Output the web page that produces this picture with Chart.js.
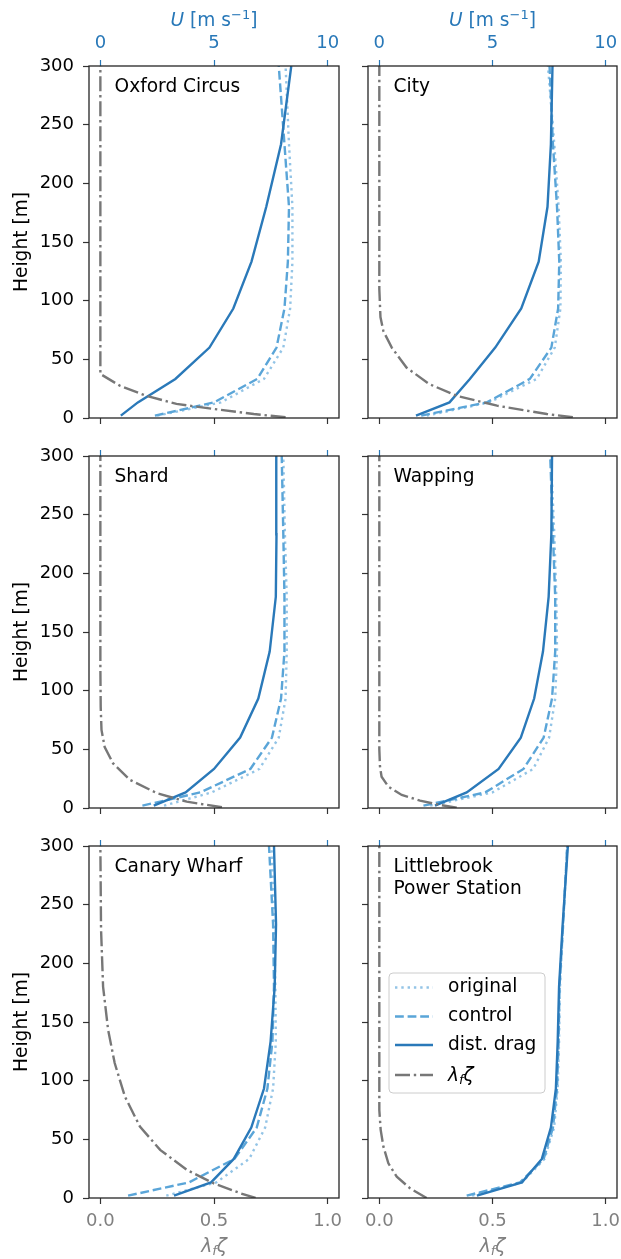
<!DOCTYPE html>
<html>
<head>
<meta charset="utf-8">
<script src="https://cdn.jsdelivr.net/npm/chart.js@4.4.0/dist/chart.umd.min.js"></script>
<style>
  body { margin: 0; background: #fff; }
  #wrap { position: relative; width: 621px; height: 1259px; }
  canvas { position: absolute; }
</style>
</head>
<body>
<div id="wrap"></div>
<script>
// model levels (m) used by the wind profiles
const heights = [2, 13.3, 33.3, 60, 93.3, 133.3, 180, 233.3, 300];

// wind speed U [m/s] per site
const oxfordOriginal = [2.5, 5.3, 7.2, 8.05, 8.35, 8.45, 8.45, 8.3, 8.15];
const oxfordControl  = [2.4, 5.0, 6.9, 7.75, 8.1, 8.25, 8.3, 8.1, 7.85];
const oxfordDrag     = [0.9, 1.65, 3.3, 4.8, 5.85, 6.65, 7.3, 7.95, 8.4];
const oxfordLambdaZ  = [0.6, 3.4, 7.7, 12, 19, 27.6, 37.5, 300];
const oxfordLambda   = [0.815, 0.675, 0.5, 0.335, 0.2, 0.085, 0, 0];

const cityOriginal = [2.1, 4.85, 6.95, 7.75, 8.0, 8.02, 7.92, 7.73, 7.45];
const cityControl  = [1.85, 4.75, 6.65, 7.6, 7.9, 7.95, 7.85, 7.67, 7.52];
const cityDrag     = [1.62, 3.1, 4.0, 5.12, 6.27, 7.04, 7.43, 7.58, 7.65];
const cityLambdaZ  = [0.6, 3.4, 10.5, 19, 29, 43, 60, 74, 86, 110, 300];
const cityLambda   = [0.855, 0.74, 0.52, 0.34, 0.22, 0.12, 0.055, 0.018, 0.005, 0, 0];

const shardOriginal = [2.8, 4.9, 7.0, 7.85, 8.15, 8.2, 8.2, 8.12, 8.05];
const shardControl  = [1.85, 4.4, 6.6, 7.55, 7.95, 8.1, 8.1, 8.05, 7.98];
const shardDrag     = [2.35, 3.75, 5.0, 6.15, 6.95, 7.45, 7.72, 7.75, 7.74];
const shardLambdaZ  = [0.6, 5.4, 12.5, 24, 38, 52, 66.5, 86, 120, 300];
const shardLambda   = [0.535, 0.38, 0.25, 0.13, 0.056, 0.019, 0.005, 0.0015, 0, 0];

const wappingOriginal = [2.25, 5.0, 6.8, 7.5, 7.77, 7.85, 7.82, 7.73, 7.58];
const wappingControl  = [1.95, 4.68, 6.37, 7.26, 7.63, 7.77, 7.77, 7.67, 7.55];
const wappingDrag     = [2.46, 3.86, 5.27, 6.25, 6.84, 7.23, 7.48, 7.6, 7.63];
const wappingLambdaZ  = [0.3, 2.6, 6.3, 11.1, 18.2, 26.7, 35.2, 50, 300];
const wappingLambda   = [0.342, 0.268, 0.18, 0.099, 0.04, 0.01, 0.003, 0, 0];

const canaryOriginal = [2.9, 5.1, 6.55, 7.25, 7.6, 7.72, 7.7, 7.65, 7.53];
const canaryControl  = [1.22, 3.9, 5.9, 6.88, 7.35, 7.57, 7.64, 7.6, 7.42];
const canaryDrag     = [3.24, 4.87, 5.87, 6.64, 7.2, 7.49, 7.67, 7.73, 7.64];
const canaryLambdaZ  = [0, 4, 12.5, 23.9, 41, 60.9, 86.5, 115, 143.5, 180, 229, 300];
const canaryLambda   = [0.683, 0.617, 0.499, 0.381, 0.263, 0.174, 0.108, 0.063, 0.034, 0.012, 0.003, 0];

const littleOriginal = [4.1, 6.3, 7.3, 7.72, 7.88, 7.94, 7.98, 8.12, 8.3];
const littleControl  = [3.86, 6.22, 7.26, 7.67, 7.85, 7.92, 7.96, 8.12, 8.3];
const littleDrag     = [4.31, 6.3, 7.18, 7.58, 7.8, 7.88, 7.94, 8.1, 8.33];
const littleLambdaZ  = [0, 8.2, 18.2, 29.6, 43.8, 58.1, 75, 300];
const littleLambda   = [0.209, 0.136, 0.077, 0.04, 0.018, 0.006, 0, 0];

const uTicks = [0, 5, 10];
const lambdaTicks = [0, 0.5, 1];
const heightTicks = [0, 50, 100, 150, 200, 250, 300];
const legendLabels = ['original', 'control', 'dist. drag'];

const FONT = 'DejaVu Sans';
const TXT = 18.6;
const BLUE = '#2878b8';
const GREY = '#808080';
const LW = 2.4;
const styles = [
  { color: '#93c4e6', dash: [2.4, 3.9] },
  { color: '#5aa5d8', dash: [8.8, 3.8] },
  { color: '#2a79b9', dash: [] },
  { color: '#777777', dash: [15, 3.8, 2.4, 3.8] }
];

const panels = [
  { label: ['Oxford Circus'], u: [oxfordOriginal, oxfordControl, oxfordDrag], lz: oxfordLambdaZ, l: oxfordLambda },
  { label: ['City'], u: [cityOriginal, cityControl, cityDrag], lz: cityLambdaZ, l: cityLambda },
  { label: ['Shard'], u: [shardOriginal, shardControl, shardDrag], lz: shardLambdaZ, l: shardLambda },
  { label: ['Wapping'], u: [wappingOriginal, wappingControl, wappingDrag], lz: wappingLambdaZ, l: wappingLambda },
  { label: ['Canary Wharf'], u: [canaryOriginal, canaryControl, canaryDrag], lz: canaryLambdaZ, l: canaryLambda },
  { label: ['Littlebrook', 'Power Station'], u: [littleOriginal, littleControl, littleDrag], lz: littleLambdaZ, l: littleLambda, legend: true }
];

const rowTop = [0, 440, 830], rowH = [440, 390, 429];
const topH = [66, 16, 16], bottomH = [22, 22, 61];
const colLeft = [0, 350], colW = [350, 271];
const leftW = [89, 18], padRight = [11, 4];

function drawRuns(ctx, runs, x, y, align) {
  let w = 0;
  runs.forEach(r => { ctx.font = r.font; r.w = ctx.measureText(r.text).width; w += r.w; });
  let cx = align === 'center' ? x - w / 2 : x;
  ctx.textAlign = 'left';
  ctx.textBaseline = 'alphabetic';
  runs.forEach(r => { ctx.font = r.font; ctx.fillText(r.text, cx, y + (r.dy || 0)); cx += r.w; });
}

function lambdaRuns() {
  return [
    { text: 'λ', font: 'italic ' + TXT + 'px ' + FONT },
    { text: 'f', font: 'italic 13px ' + FONT, dy: 3 },
    { text: 'ζ', font: 'italic ' + TXT + 'px ' + FONT }
  ];
}

const panelPlugin = {
  id: 'panelDecor',
  afterDatasetsDraw(chart) {
    const { ctx, chartArea: a } = chart;
    const o = chart.options.plugins.panelDecor;
    ctx.save();
    ctx.strokeStyle = '#262626';
    ctx.lineWidth = 1.3;
    ctx.strokeRect(a.left, a.top, a.right - a.left, a.bottom - a.top);

    ctx.fillStyle = '#000';
    ctx.font = TXT + 'px ' + FONT;
    ctx.textAlign = 'left';
    ctx.textBaseline = 'middle';
    o.label.forEach((t, i) => ctx.fillText(t, a.left + 25.5, a.top + 21.5 + i * 21.7));

    const cx = (a.left + a.right) / 2;
    if (o.row === 0) {
      ctx.fillStyle = BLUE;
      drawRuns(ctx, [
        { text: 'U', font: 'italic ' + TXT + 'px ' + FONT },
        { text: ' [m s', font: TXT + 'px ' + FONT },
        { text: '−1', font: '13px ' + FONT, dy: -7.5 },
        { text: ']', font: TXT + 'px ' + FONT }
      ], cx, a.top - 40, 'center');
    }
    if (o.row === 2) {
      ctx.fillStyle = GREY;
      drawRuns(ctx, lambdaRuns(), cx, a.bottom + 54, 'center');
    }

    if (o.legend) {
      const bx = a.left + 21, by = a.top + 127, bw = 156, bh = 120;
      ctx.fillStyle = 'rgba(255,255,255,0.8)';
      ctx.strokeStyle = '#cccccc';
      ctx.lineWidth = 1;
      ctx.beginPath();
      ctx.roundRect(bx, by, bw, bh, 4);
      ctx.fill();
      ctx.stroke();
      const rows = [14.5, 43.5, 72, 102];
      rows.forEach((ry, i) => {
        const s = styles[i];
        ctx.strokeStyle = s.color;
        ctx.lineWidth = LW;
        ctx.setLineDash(s.dash);
        ctx.beginPath();
        ctx.moveTo(bx + 6, by + ry);
        ctx.lineTo(bx + 44, by + ry);
        ctx.stroke();
        ctx.setLineDash([]);
        ctx.fillStyle = '#000';
        if (i < 3) {
          ctx.font = TXT + 'px ' + FONT;
          ctx.textAlign = 'left';
          ctx.textBaseline = 'middle';
          ctx.fillText(legendLabels[i], bx + 59, by + ry);
        } else {
          drawRuns(ctx, lambdaRuns(), bx + 59, by + ry + 6, 'left');
        }
      });
    }
    ctx.restore();
  }
};

const wrap = document.getElementById('wrap');

panels.forEach((p, idx) => {
  const row = Math.floor(idx / 2), col = idx % 2;
  const canvas = document.createElement('canvas');
  canvas.width = colW[col];
  canvas.height = rowH[row];
  canvas.style.left = colLeft[col] + 'px';
  canvas.style.top = rowTop[row] + 'px';
  wrap.appendChild(canvas);

  const datasets = p.u.map((vals, i) => ({
    label: legendLabels[i],
    data: heights.map((h, k) => ({ x: vals[k], y: h })),
    xAxisID: 'x2',
    borderColor: styles[i].color,
    borderDash: styles[i].dash,
    borderWidth: LW,
    order: 3 - i
  }));
  datasets.push({
    label: 'lambda',
    data: p.lz.map((h, k) => ({ x: p.l[k], y: h })),
    xAxisID: 'x',
    borderColor: styles[3].color,
    borderDash: styles[3].dash,
    borderWidth: LW,
    order: 0
  });
  datasets.forEach(d => Object.assign(d, { showLine: true, pointRadius: 0, fill: false, tension: 0, clip: 0 }));

  const tickFont = { family: FONT, size: 18 };

  new Chart(canvas, {
    type: 'scatter',
    data: { datasets },
    plugins: [panelPlugin],
    options: {
      responsive: false,
      animation: false,
      devicePixelRatio: 1,
      layout: { padding: { left: 0, top: 0, bottom: 0, right: padRight[col] } },
      plugins: {
        legend: { display: false },
        tooltip: { enabled: false },
        panelDecor: { label: p.label, row, legend: !!p.legend }
      },
      scales: {
        x: {
          type: 'linear', position: 'bottom', min: -0.05, max: 1.05,
          afterBuildTicks: s => { s.ticks = lambdaTicks.map(v => ({ value: v })); },
          afterFit: s => { s.height = bottomH[row]; s.paddingLeft = 0; s.paddingRight = 0; },
          grid: { drawOnChartArea: false, drawTicks: true, tickLength: 6, tickColor: '#333', tickWidth: 1.2 },
          border: { display: false },
          ticks: { display: row === 2, color: GREY, font: tickFont, padding: 7, maxRotation: 0, autoSkip: false,
                   callback: v => v.toFixed(1) }
        },
        x2: {
          type: 'linear', position: 'top', min: -0.5, max: 10.5,
          afterBuildTicks: s => { s.ticks = uTicks.map(v => ({ value: v })); },
          afterFit: s => { s.height = topH[row]; s.paddingLeft = 0; s.paddingRight = 0; },
          grid: { drawOnChartArea: false, drawTicks: true, tickLength: 6, tickColor: BLUE, tickWidth: 1.2 },
          border: { display: false },
          ticks: { display: row === 0, color: BLUE, font: tickFont, padding: 6, maxRotation: 0, autoSkip: false,
                   callback: v => String(v) }
        },
        y: {
          type: 'linear', position: 'left', min: 0, max: 300,
          afterBuildTicks: s => { s.ticks = heightTicks.map(v => ({ value: v })); },
          afterFit: s => { s.width = leftW[col]; s.paddingTop = 0; s.paddingBottom = 0; },
          grid: { drawOnChartArea: false, drawTicks: true, tickLength: 6, tickColor: '#333', tickWidth: 1.2 },
          border: { display: false },
          title: { display: col === 0, text: 'Height [m]', color: '#000', font: { family: FONT, size: TXT }, padding: { top: 11 } },
          ticks: { display: col === 0, color: '#000', font: tickFont, padding: 9, autoSkip: false,
                   callback: v => String(v) }
        }
      }
    }
  });
});
</script>
</body>
</html>
